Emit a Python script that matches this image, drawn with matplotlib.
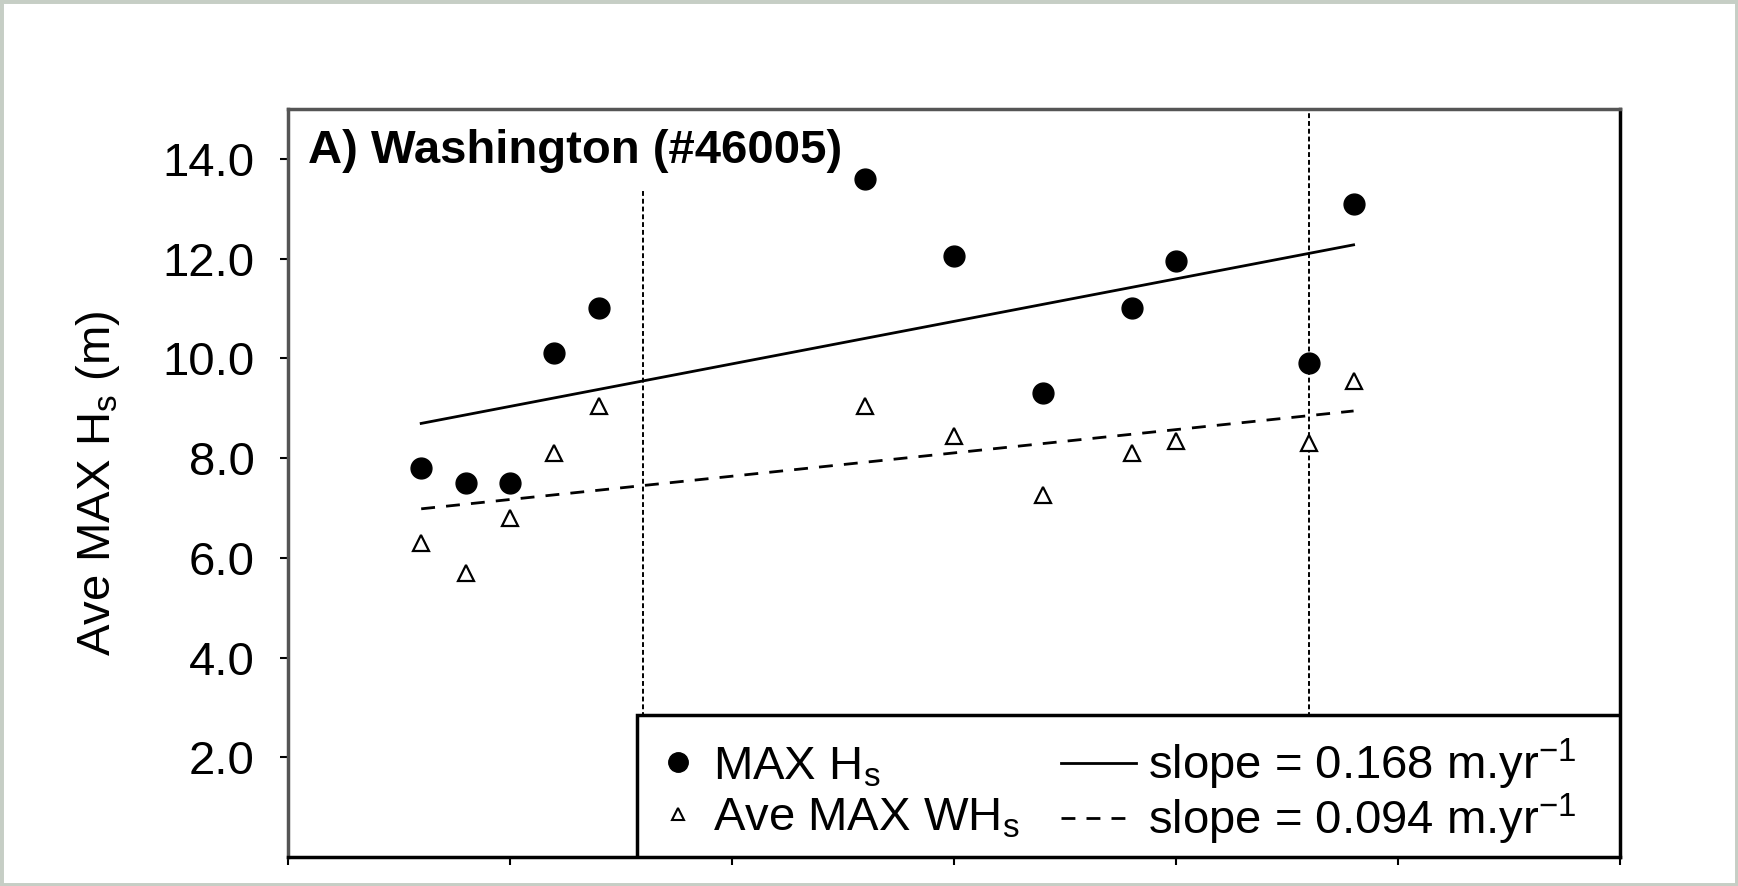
import numpy as np
import matplotlib.pyplot as plt
from matplotlib.lines import Line2D
from matplotlib.patches import Rectangle

plt.rcParams['font.family'] = ['Liberation Sans', 'DejaVu Sans']
plt.rcParams['mathtext.fontset'] = 'custom'
plt.rcParams['mathtext.rm'] = 'Liberation Sans'
plt.rcParams['mathtext.it'] = 'Liberation Sans:italic'
plt.rcParams['mathtext.bf'] = 'Liberation Sans:bold'

# data (buoy 46005, Washington)
years = [1978, 1979, 1980, 1981, 1982, 1988, 1990, 1992, 1994, 1995, 1998, 1999]
max_hs = [7.8, 7.5, 7.5, 10.1, 11.0, 13.6, 12.05, 9.3, 11.0, 11.95, 9.9, 13.1]
ave_max_whs = [6.3, 5.7, 6.8, 8.1, 9.05, 9.05, 8.45, 7.25, 8.1, 8.35, 8.3, 9.55]
event_years = [1983, 1998]
event_tops = [13.4, 15.0]
yticks = [2, 4, 6, 8, 10, 12, 14]
xticks = [1975, 1980, 1985, 1990, 1995, 2000, 2005]
labels = ['MAX H$_\\mathrm{s}$', 'Ave MAX WH$_\\mathrm{s}$',
          'slope = 0.168 m.yr$^{-1}$', 'slope = 0.094 m.yr$^{-1}$']

x = np.array(years)
p_max = np.polyfit(x, max_hs, 1)
p_ave = np.polyfit(x, ave_max_whs, 1)
xf = np.array([x.min(), x.max()])

fig = plt.figure(figsize=(17.38, 8.86), dpi=100)
ax = fig.add_axes([0.1657, 0.0327, 0.7664, 0.8443])

for yr, top in zip(event_years, event_tops):
    ax.plot([yr, yr], [0, top], color='black', lw=1.4, dashes=(2.5, 1.5), zorder=1)

ax.plot(xf, np.polyval(p_max, xf), color='black', lw=2.0, zorder=2)
ax.plot(xf, np.polyval(p_ave, xf), color='black', lw=2.0, dashes=(5, 4), zorder=2)
ax.plot(x, max_hs, ls='none', marker='o', ms=15, color='black', zorder=3)
ax.plot(x, ave_max_whs, ls='none', marker='^', ms=11, mfc='white', mec='black',
        mew=1.6, zorder=3)

ax.set_xlim(1975, 2005)
ax.set_ylim(0, 15)
ax.set_xticks(xticks)
ax.set_yticks(yticks)
ax.set_yticklabels(['%.1f' % t for t in yticks])
ax.tick_params(axis='y', direction='out', length=6, width=1.5, pad=18, labelsize=34)
ax.tick_params(axis='x', direction='out', length=6, width=1.5, labelbottom=False)

for side in ['left', 'top']:
    ax.spines[side].set_color('#555555')
for side in ['right', 'bottom']:
    ax.spines[side].set_color('black')
for side in ax.spines:
    ax.spines[side].set_linewidth(2.5)

ax.set_ylabel('Ave MAX H$_\\mathrm{s}$ (m)', fontsize=34)
ax.yaxis.set_label_coords(-0.1246, 0.5)

ax.text(0.015, 0.928, 'A) Washington (#46005)', transform=ax.transAxes,
        fontsize=34, fontweight='bold', ha='left', va='baseline')

# legend box (two legends share one frame)
ax.add_patch(Rectangle((0.262, 0), 0.738, 0.19, transform=ax.transAxes,
                       fc='white', ec='black', lw=2.5, zorder=4))

h_circ = Line2D([], [], ls='none', marker='o', ms=14, color='black')
h_tri = Line2D([], [], ls='none', marker='^', ms=9, mfc='white', mec='black', mew=1.5)
h_solid = Line2D([], [], color='black', lw=2.0)
h_dash = Line2D([], [], color='black', lw=2.0, dashes=(5, 4))

leg1 = ax.legend([h_circ, h_tri], labels[:2], loc='lower left',
                 bbox_to_anchor=(0.2645, 0.0037), borderaxespad=0, borderpad=0.3,
                 handlelength=1.0, handletextpad=0.25, labelspacing=0.15,
                 fontsize=34, frameon=False)
ax.add_artist(leg1)

ax.legend([h_solid, h_dash], labels[2:], loc='lower right',
          bbox_to_anchor=(0.978, -0.006), borderaxespad=0, borderpad=0.3,
          handlelength=1.6, handletextpad=0.25, labelspacing=0.01, fontsize=34,
          frameon=False)

fig.add_artist(Rectangle((0, 0), 1, 1, transform=fig.transFigure, fill=False,
                         ec='#c6cec5', lw=5))

fig.savefig('out.png', dpi=100)
